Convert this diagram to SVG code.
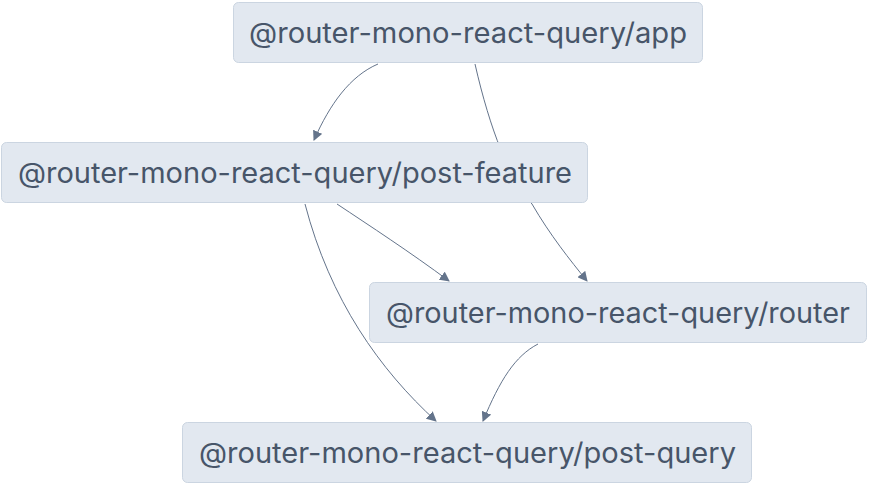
<svg xmlns="http://www.w3.org/2000/svg" width="869" height="485" viewBox="0 0 869 485">
<defs>
<style>
.node rect{fill:#e2e8f0;stroke:#cbd5e1;stroke-width:1}
.node text{font-family:Inter,"Noto Sans","DejaVu Sans",sans-serif;font-size:28px;fill:#475569;text-anchor:middle;dominant-baseline:central;lengthAdjust:spacingAndGlyphs}
.edge{fill:none;stroke:#64748b;stroke-width:1}
</style>
<marker id="arr" viewBox="0 0 10 10" refX="9" refY="5" markerWidth="10" markerHeight="10" markerUnits="userSpaceOnUse" orient="auto">
<path d="M0,0 L10,5 L0,10 z" fill="#64748b"/>
</marker>
</defs>
<rect width="869" height="485" fill="#ffffff"/>
<g id="edges">
<path class="edge" d="M378,64 C350,76 330,104 314,140" marker-end="url(#arr)"/>
<path class="edge" d="M475,64 C490,130 510,180 532,204 C550,235 570,260 587,281" marker-end="url(#arr)"/>
<path class="edge" d="M337,204 C370,226 410,252 449,281" marker-end="url(#arr)"/>
<path class="edge" d="M305,204 C330,300 380,370 436,421" marker-end="url(#arr)"/>
<path class="edge" d="M538,344 C515,356 500,380 483,421" marker-end="url(#arr)"/>
</g>
<g id="app" class="node"><rect x="233.5" y="2.5" width="469" height="60" rx="5"/><text x="468" y="33" textLength="438" lengthAdjust="spacingAndGlyphs">@router-mono-react-query/app</text></g>
<g id="post-feature" class="node"><rect x="1.5" y="142.5" width="586" height="60" rx="5"/><text x="295" y="173" textLength="554" lengthAdjust="spacingAndGlyphs">@router-mono-react-query/post-feature</text></g>
<g id="router" class="node"><rect x="369.5" y="282.5" width="497" height="60" rx="5"/><text x="618" y="313" textLength="464" lengthAdjust="spacingAndGlyphs">@router-mono-react-query/router</text></g>
<g id="post-query" class="node"><rect x="182.5" y="422.5" width="569" height="60" rx="5"/><text x="467.5" y="453" textLength="537" lengthAdjust="spacingAndGlyphs">@router-mono-react-query/post-query</text></g>
</svg>
